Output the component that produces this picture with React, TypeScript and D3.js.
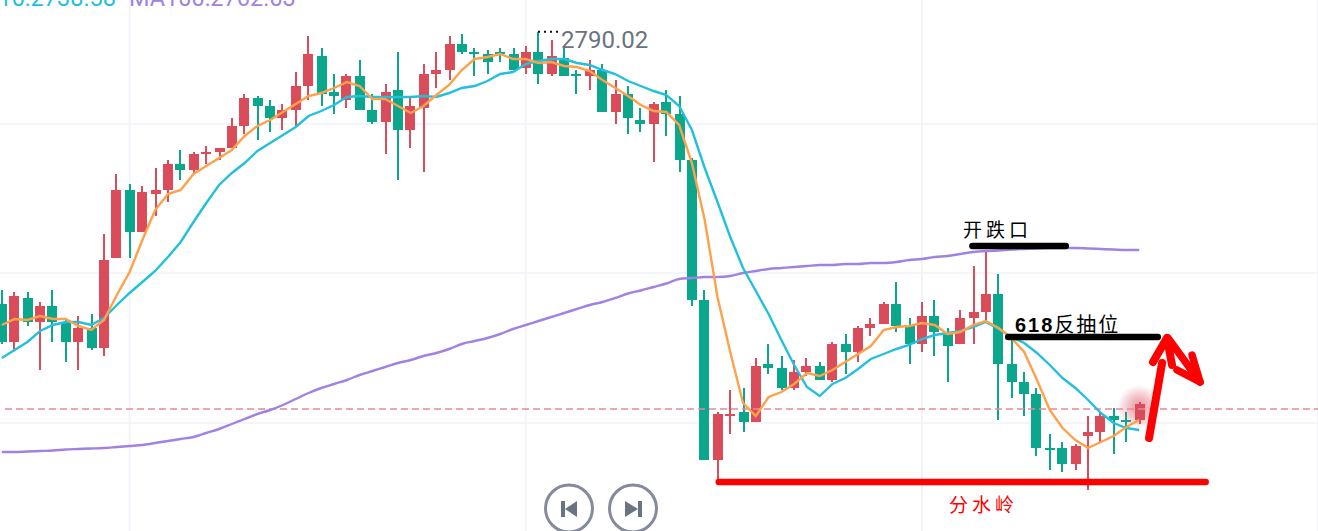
/**
 * @file App.tsx
 * @description Candlestick chart with moving averages and hand-drawn trade notes.
 */

import * as d3 from 'd3';
import { type FC } from 'react';

const opens = [
  2756, 2751.25, 2756.75, 2753.75, 2755.75, 2753.75, 2751.25, 2753, 2750.5, 2761.75,
  2770.25, 2765, 2769.75, 2770.25, 2773.5, 2772.75, 2774.75, 2775, 2775.5, 2778.25,
  2781.75, 2780.75, 2779.25, 2780.25, 2783.25, 2787, 2782.5, 2781.5, 2784.5, 2780.25,
  2778.75, 2782.75, 2777.75, 2780.5, 2784.75, 2785.25, 2788.5, 2787.5, 2787.25, 2787.5,
  2787.25, 2785.5, 2787.5, 2784.75, 2786.75, 2784.75, 2784.5, 2785.25, 2780, 2782.25,
  2779, 2778.5, 2781.25, 2779.75, 2774, 2756.5, 2736.5, 2742, 2742.5, 2741.25,
  2748.5, 2748, 2745.5, 2747.5, 2748.25, 2746.5, 2751, 2750, 2753, 2753.5,
  2756, 2753.25, 2751, 2754.5, 2752.25, 2751, 2754.25, 2755, 2757.25, 2748.5,
  2746.25, 2744.75, 2738, 2738, 2736, 2739.5, 2740, 2742, 2741.5, 2741.5,
];
const closes = [
  2751.25, 2757, 2753.75, 2755.75, 2753.75, 2751.25, 2753, 2750.5, 2761.5, 2770.25,
  2765, 2770, 2770.25, 2773.5, 2772.75, 2774.75, 2775, 2775.5, 2778.25, 2781.75,
  2780.75, 2779.25, 2780.25, 2783.25, 2787.25, 2782.25, 2782, 2784.5, 2780.25, 2778.75,
  2782.5, 2777.75, 2780.75, 2784.75, 2785.25, 2788.5, 2787.5, 2787.25, 2786.25, 2787.25,
  2785.25, 2787.5, 2784.75, 2787, 2784.5, 2784.5, 2785.25, 2780, 2782.25, 2779.25,
  2778.5, 2781, 2779.75, 2774, 2756.5, 2736.5, 2742.25, 2742.25, 2741.25, 2748.25,
  2748, 2745.5, 2747.5, 2748.25, 2746.5, 2751, 2750, 2753, 2753.5, 2756,
  2753.25, 2751, 2754.5, 2752.5, 2750.75, 2754.25, 2755, 2757.25, 2748.5, 2746.25,
  2744.75, 2738, 2737.75, 2736, 2738.25, 2740, 2742, 2741.5, 2741.25, 2743.5,
];
const highs = [
  2757.75, 2757.5, 2757.5, 2756.25, 2757.75, 2754.25, 2754.5, 2754.75, 2764.75, 2772.25,
  2771, 2770.75, 2773, 2774, 2775.25, 2775, 2775.75, 2775.5, 2779.25, 2782.25,
  2782, 2781.5, 2781, 2785, 2789.5, 2788, 2784.75, 2784.75, 2786.5, 2782.25,
  2783.5, 2787.5, 2781.75, 2786, 2787.5, 2789.5, 2789.75, 2788, 2787.75, 2788,
  2788, 2788.25, 2790.02, 2789, 2788, 2785.25, 2786.5, 2786, 2784, 2783.25,
  2780.5, 2781.25, 2782.75, 2782, 2774.25, 2757.75, 2742.5, 2745.25, 2745.5, 2749.25,
  2751, 2749.5, 2749, 2749.25, 2748.75, 2751.25, 2752.25, 2753.25, 2754.25, 2756.25,
  2758.75, 2754.25, 2756.25, 2756.5, 2753, 2755.25, 2760.75, 2762.75, 2759.75, 2751.5,
  2747.5, 2745.5, 2739.75, 2738.75, 2738.5, 2742, 2742.5, 2743, 2742.5, 2743.75,
];
const lows = [
  2751, 2750.25, 2753.25, 2747.75, 2751.25, 2748.75, 2747.75, 2750.25, 2749.5, 2761.75,
  2761.75, 2765, 2767, 2768.75, 2771.5, 2772.25, 2773.5, 2774, 2775.5, 2777.25,
  2776.5, 2777.5, 2777.75, 2778.25, 2781.5, 2780.75, 2779.75, 2780.5, 2780.25, 2778.5,
  2774.75, 2771.5, 2775.5, 2772.5, 2783, 2784, 2787.25, 2784.5, 2784.75, 2786.25,
  2785.25, 2784.75, 2783.5, 2784.5, 2784.5, 2782.25, 2782.75, 2780, 2778.5, 2777.25,
  2777.5, 2773.75, 2777, 2772.5, 2755.75, 2736.5, 2734, 2739.75, 2740, 2741.25,
  2747.25, 2745.25, 2745.25, 2747, 2746.5, 2746.25, 2747.25, 2748.75, 2752, 2753.5,
  2752.5, 2748.5, 2750, 2749.5, 2746.25, 2751, 2751, 2753.75, 2741.5, 2744.25,
  2742, 2737, 2735.25, 2735, 2735.25, 2732.75, 2738.75, 2737.25, 2738.75, 2741,
];

const ma10 = [
  2753.375, 2754.125, 2754, 2754.5, 2754.125, 2754.125, 2753.25, 2752.75, 2754, 2757.125,
  2760, 2764, 2767.75, 2769.75, 2770.25, 2772.25, 2773.25, 2774.25, 2775.25, 2777,
  2778.25, 2779, 2780, 2781, 2782, 2782.375, 2783, 2783.75, 2783.25, 2781.625,
  2781.625, 2780.75, 2779.875, 2780.75, 2782.125, 2783.375, 2785.25, 2786.625, 2786.875, 2787.25,
  2786.625, 2786.625, 2786.125, 2786.25, 2785.75, 2785.625, 2785.125, 2784, 2783, 2782,
  2780.875, 2780.125, 2780, 2778.375, 2773.625, 2766.5, 2756.875, 2750, 2743.625, 2742,
  2744.375, 2745, 2746, 2747.375, 2747, 2747.75, 2748.75, 2749.75, 2750.75, 2752.75,
  2753.125, 2753.25, 2753.625, 2753.375, 2752.25, 2752.5, 2753.375, 2753.875, 2753, 2751.75,
  2750, 2746.5, 2742.75, 2740.5, 2739, 2738, 2738.75, 2739.5, 2740.625, 2741.5,
];
const ma30 = [
  2749.25, 2750.25, 2751.25, 2752.625, 2753.375, 2753.75, 2753.75, 2753.375, 2754.25, 2755.875,
  2757.375, 2758.75, 2760.125, 2761.875, 2763.75, 2766.25, 2768.625, 2770.875, 2772.375, 2773.625,
  2775.125, 2776.125, 2777.125, 2778.125, 2779.5, 2780.125, 2780.875, 2781.875, 2782, 2781.875,
  2781.875, 2781.875, 2781.875, 2782, 2781.875, 2782.375, 2783, 2783.25, 2783.875, 2784.75,
  2785, 2786, 2786.375, 2786.625, 2786.625, 2786.125, 2785.875, 2785.25, 2784.75, 2783.875,
  2783.25, 2782.625, 2782.125, 2780.75, 2777.75, 2773, 2768.75, 2764.375, 2760.5, 2757.625,
  2754.75, 2751.5, 2748.375, 2745.625, 2744.5, 2746, 2746.75, 2747.875, 2749.125, 2749.75,
  2750.375, 2750.875, 2751.625, 2752.125, 2752.375, 2752.625, 2753.125, 2753.75, 2752.875, 2751.875,
  2751.125, 2749.875, 2748.375, 2746.75, 2745.5, 2744, 2742.375, 2741.125, 2740.5, 2740.25,
];
const ma100 = [
  2737.5, 2737.5, 2737.56, 2737.625, 2737.69, 2737.81, 2737.875, 2737.94, 2738, 2738.125,
  2738.25, 2738.375, 2738.625, 2738.875, 2739.125, 2739.375, 2739.875, 2740.375, 2741, 2741.625,
  2742.25, 2742.75, 2743.375, 2744.125, 2744.875, 2745.5, 2746, 2746.5, 2747.125, 2747.625,
  2748.125, 2748.625, 2749, 2749.5, 2749.875, 2750.375, 2751, 2751.375, 2751.75, 2752.25,
  2752.875, 2753.375, 2753.875, 2754.375, 2754.875, 2755.375, 2755.875, 2756.25, 2756.75, 2757.31,
  2757.69, 2758.125, 2758.56, 2759.125, 2759.25, 2759.375, 2759.375, 2759.5, 2759.875, 2760.125,
  2760.375, 2760.5, 2760.625, 2760.75, 2760.875, 2760.875, 2761, 2761, 2761.125, 2761.125,
  2761.25, 2761.5, 2761.625, 2761.875, 2762, 2762.25, 2762.5, 2762.625, 2762.69, 2762.81,
  2762.875, 2762.94, 2763, 2763, 2763, 2762.94, 2762.875, 2762.81, 2762.75, 2762.75,
];

const gridPrices = [2778.5, 2759.875, 2741.125];
const gridCandles = [10, 41, 72, 103];
const lastPrice = 2743;
const highPrice = 2790.02;

// trade notes, in [candle index, price]
const gapLevel: [number, number][] = [[75.95, 2763.25], [83.25, 2763.25]];
const pullbackLevel: [number, number][] = [[78.75, 2751.875], [90.45, 2751.875]];
const watershedLevel: [number, number][] = [[56.1, 2733.75], [94.2, 2733.75]];
const arrowUp: [number, number][] = [[89.77, 2739.25], [90.79, 2748.625]];
const arrowUpHead: [number, number][] = [[90.08, 2748.75], [91.17, 2751.75], [91.57, 2748.375]];
const arrowDown: [number, number][] = [[91.25, 2751.75], [93.76, 2746.25]];
const arrowDownHead: [number, number][] = [[93.13, 2749.625], [93.76, 2746.25], [91.96, 2747.75]];

const WIDTH = 1318;
const HEIGHT = 531;
const UP = '#da4c5a';
const DOWN = '#0aa78c';
const LABEL_FONT = 'Roboto, sans-serif';
const CJK_FONT = '"Noto Sans CJK SC", sans-serif';

const App: FC = () => {
  const x = d3.scaleLinear().domain([0, 89]).range([1.8, 1139.22]);
  const y = d3.scaleLinear().domain([2794, 2794 - HEIGHT / 8]).range([0, HEIGHT]);

  // candles sit on the 2px device grid of the original screen
  const snap = (i: number) => Math.round(x(i) / 2) * 2;

  const maLine = d3
    .line<number>()
    .x((_, i) => x(i))
    .y((d) => y(d));
  const smoothLine = d3
    .line<number>()
    .x((_, i) => x(i))
    .y((d) => y(d))
    .curve(d3.curveMonotoneX);
  const noteLine = d3
    .line<[number, number]>()
    .x((d) => x(d[0]))
    .y((d) => y(d[1]));

  const lastX = x(opens.length - 1);

  return (
    <svg
      width={WIDTH}
      height={HEIGHT}
      viewBox={`0 0 ${WIDTH} ${HEIGHT}`}
      style={{ position: 'absolute', left: 0, top: 0, background: '#fff' }}
    >
      <defs>
        <radialGradient id="last-glow">
          <stop offset="0%" stopColor={UP} stopOpacity={0.6} />
          <stop offset="55%" stopColor={UP} stopOpacity={0.3} />
          <stop offset="100%" stopColor={UP} stopOpacity={0} />
        </radialGradient>
      </defs>

      {/* Grid */}
      {gridPrices.map((p) => (
        <line key={p} x1={0} x2={WIDTH} y1={y(p)} y2={y(p)} stroke="#f4f5f8" strokeWidth={2} />
      ))}
      {gridCandles.map((c) => (
        <line key={c} x1={x(c)} x2={x(c)} y1={0} y2={HEIGHT} stroke="#f3f3f9" strokeWidth={2} />
      ))}

      {/* Legend */}
      <text x={116} y={5.5} textAnchor="end" fontFamily={LABEL_FONT} fontSize={23.5} fill="#22c0de">
        MA10:2738.58
      </text>
      <text x={129} y={5.5} fontFamily={LABEL_FONT} fontSize={23.5} fill="#a182e2">
        MA100:2762.03
      </text>

      {/* Candles */}
      {opens.map((o, i) => {
        const c = closes[i];
        const color = c >= o ? UP : DOWN;
        const top = y(Math.max(o, c));
        const cx = snap(i);
        return (
          <g key={i} fill={color}>
            <rect x={cx - 1} y={y(highs[i])} width={2} height={y(lows[i]) - y(highs[i])} />
            <rect x={cx - 5} y={top} width={10} height={Math.max(y(Math.min(o, c)) - top, 2)} />
          </g>
        );
      })}

      {/* Last candle glow */}
      <circle cx={lastX} cy={y(lastPrice) - 1} r={22} fill="url(#last-glow)" />

      {/* Last price */}
      <line
        x1={5}
        x2={WIDTH}
        y1={y(lastPrice) + 1}
        y2={y(lastPrice) + 1}
        stroke="#e58a95"
        strokeWidth={1.5}
        strokeDasharray="7 4"
      />

      {/* Moving averages */}
      <path d={smoothLine(ma100) ?? ''} fill="none" stroke="#a182e2" strokeWidth={2.4} />
      <path d={maLine(ma30) ?? ''} fill="none" stroke="#22c0de" strokeWidth={2.4} />
      <path d={maLine(ma10) ?? ''} fill="none" stroke="#ffa14a" strokeWidth={2.4} />

      {/* High label */}
      <line
        x1={snap(42)}
        x2={558}
        y1={y(highPrice)}
        y2={y(highPrice)}
        stroke="#111"
        strokeWidth={2}
        strokeDasharray="2 4"
      />
      <text x={561} y={48} fontFamily={LABEL_FONT} fontSize={24} fill="#6b7280">
        2790.02
      </text>

      {/* Trade notes */}
      <g fill="none" strokeLinecap="round" strokeLinejoin="round">
        <path d={noteLine(gapLevel) ?? ''} stroke="#000" strokeWidth={6.5} />
        <path d={noteLine(pullbackLevel) ?? ''} stroke="#000" strokeWidth={6.5} />
        <path d={noteLine(watershedLevel) ?? ''} stroke="#f00" strokeWidth={6.5} />
        <path d={noteLine(arrowUp) ?? ''} stroke="#f00" strokeWidth={8} />
        <path d={noteLine(arrowUpHead) ?? ''} stroke="#f00" strokeWidth={8} />
        <path d={noteLine(arrowDown) ?? ''} stroke="#f00" strokeWidth={7.5} />
        <path d={noteLine(arrowDownHead) ?? ''} stroke="#f00" strokeWidth={7.5} />
      </g>
      <text x={963} y={237} fontFamily={CJK_FONT} fontSize={19} letterSpacing={4} fill="#000">
        开跌口
      </text>
      <text x={1015} y={332} fontFamily={CJK_FONT} fontSize={20} letterSpacing={2} fill="#000">
        <tspan fontFamily="'Liberation Sans', sans-serif" fontWeight="bold">618</tspan>反抽位
      </text>
      <text x={949} y={512} fontFamily={CJK_FONT} fontSize={19} letterSpacing={4} fill="#f00">
        分水岭
      </text>

      {/* Pager buttons */}
      <g fill="#fff" stroke="#858b9c" strokeWidth={3}>
        <circle cx={569} cy={508.5} r={23.5} />
        <circle cx={633} cy={508.5} r={23.5} />
      </g>
      <g fill="#6b7280">
        <rect x={561} y={501} width={4} height={16} />
        <path d={d3.line()([[577, 501], [565, 509], [577, 517]]) ?? ''} />
        <rect x={638} y={501} width={4} height={16} />
        <path d={d3.line()([[625, 501], [638, 509], [625, 517]]) ?? ''} />
      </g>
    </svg>
  );
};

export default App;
